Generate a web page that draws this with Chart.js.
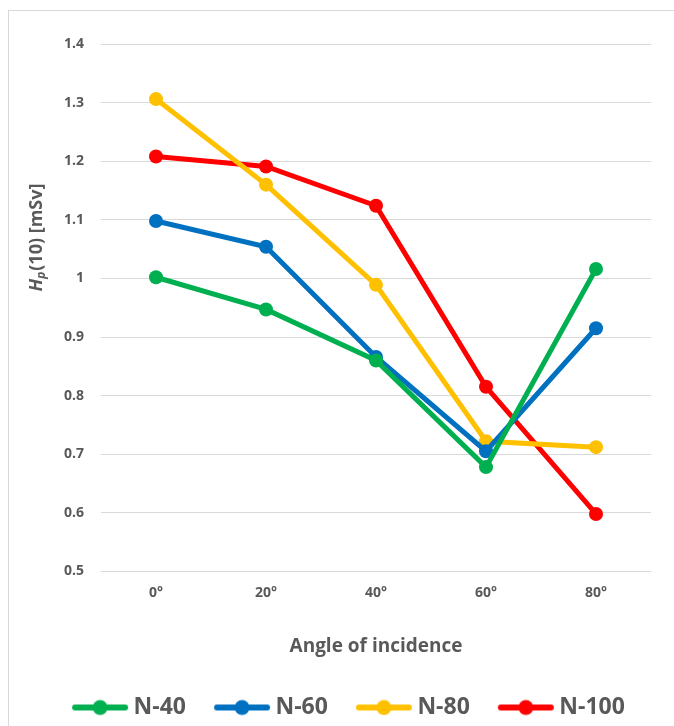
<!DOCTYPE html>
<html>
<head>
<meta charset="utf-8">
<script src="https://cdn.jsdelivr.net/npm/chart.js"></script>
<style>
  body { margin: 0; background: #fff; }
  #frame { position: absolute; left: 8px; top: 10px; width: 700px; height: 760px; border: 1px solid #d9d9d9; }
  #wrap { position: absolute; left: 0; top: 0; width: 674px; height: 726px; }
</style>
</head>
<body>
<div id="frame"></div>
<div id="wrap"><canvas id="chart" width="674" height="726"></canvas></div>
<script>
// angles of incidence
const angles = ['0°', '20°', '40°', '60°', '80°'];

// Hp(10) in mSv
const n40 = [1.002, 0.947, 0.860, 0.678, 1.016];
const n60 = [1.098, 1.054, 0.866, 0.705, 0.915];
const n80 = [1.306, 1.160, 0.989, 0.722, 0.712];
const n100 = [1.208, 1.191, 1.124, 0.815, 0.598];

const seriesNames = ['N-40', 'N-60', 'N-80', 'N-100'];
const seriesColors = ['#00B050', '#0070C0', '#FFC000', '#FF0000'];

const FONT = "'Open Sans', 'Liberation Sans', sans-serif";
const GREY = '#595959';

// legend marker: a short line with a dot in the middle
function legendMarker(color) {
  const c = document.createElement('canvas');
  c.width = 58; c.height = 18;
  const ctx = c.getContext('2d');
  ctx.strokeStyle = color;
  ctx.lineWidth = 6;
  ctx.lineCap = 'round';
  ctx.beginPath();
  ctx.moveTo(4, 9);
  ctx.lineTo(54, 9);
  ctx.stroke();
  ctx.fillStyle = color;
  ctx.beginPath();
  ctx.arc(29, 9, 7.5, 0, Math.PI * 2);
  ctx.fill();
  return c;
}

// y axis title with italic H and subscript p
const yTitle = {
  id: 'yTitle',
  afterDraw(chart) {
    const ctx = chart.ctx;
    ctx.save();
    ctx.translate(37, 238);
    ctx.rotate(-Math.PI / 2);
    ctx.fillStyle = GREY;
    ctx.textBaseline = 'middle';
    const parts = [
      { t: 'H', f: 'italic bold 18px ' + FONT, dy: 0 },
      { t: 'p', f: 'italic bold 12px ' + FONT, dy: 5 },
      { t: '(10) [mSv]', f: 'bold 18px ' + FONT, dy: 0 }
    ];
    let total = 0;
    parts.forEach(p => { ctx.font = p.f; p.w = ctx.measureText(p.t).width; total += p.w; });
    let x = -total / 2;
    parts.forEach(p => {
      ctx.font = p.f;
      ctx.fillText(p.t, x, p.dy);
      x += p.w + (p.t === 'p' ? 1 : 0);
    });
    ctx.restore();
  }
};

// the legend sits a bit right of the canvas centre in the original
const legendShift = {
  id: 'legendShift',
  afterLayout(chart) {
    chart.legend.left += 22;
    chart.legend.right += 22;
  }
};

const allData = [n40, n60, n80, n100];

new Chart(document.getElementById('chart'), {
  type: 'line',
  data: {
    labels: angles,
    datasets: allData.map((d, i) => ({
      label: seriesNames[i],
      data: d,
      borderColor: seriesColors[i],
      backgroundColor: seriesColors[i],
      borderWidth: 5,
      pointStyle: 'circle',
      pointRadius: 7,
      pointHoverRadius: 7,
      pointBorderWidth: 0,
      tension: 0
    }))
  },
  options: {
    responsive: false,
    animation: false,
    layout: { padding: { left: 8, right: 23, top: 44, bottom: -3 } },
    scales: {
      x: {
        offset: true,
        grid: { display: false, offset: true },
        border: { display: false },
        ticks: { color: GREY, font: { family: FONT, weight: 'bold', size: 14 }, padding: 5 },
        title: {
          display: true,
          text: 'Angle of incidence',
          color: GREY,
          font: { family: FONT, weight: 'bold', size: 19 },
          padding: { top: 29, bottom: 4 }
        }
      },
      y: {
        min: 0.5,
        max: 1.4,
        afterFit(scale) { scale.width = 93; },
        grid: { color: '#d9d9d9', lineWidth: 1, drawTicks: false },
        border: { display: false },
        ticks: {
          stepSize: 0.1,
          color: GREY,
          padding: 17,
          font: { family: FONT, weight: 'bold', size: 14 },
          callback: v => Math.round(v * 10) / 10
        }
      }
    },
    plugins: {
      tooltip: { enabled: false },
      legend: {
        position: 'bottom',
        labels: {
          usePointStyle: true,
          pointStyleWidth: 44,
          padding: 34,
          color: GREY,
          font: { family: FONT, weight: 'bold', size: 23 },
          generateLabels(chart) {
            return chart.data.datasets.map((ds, i) => ({
              text: ds.label,
              pointStyle: legendMarker(seriesColors[i]),
              fillStyle: seriesColors[i],
              strokeStyle: seriesColors[i],
              lineWidth: 0,
              fontColor: GREY,
              datasetIndex: i,
              hidden: false
            }));
          }
        }
      }
    }
  },
  plugins: [yTitle, legendShift]
});
</script>
</body>
</html>
